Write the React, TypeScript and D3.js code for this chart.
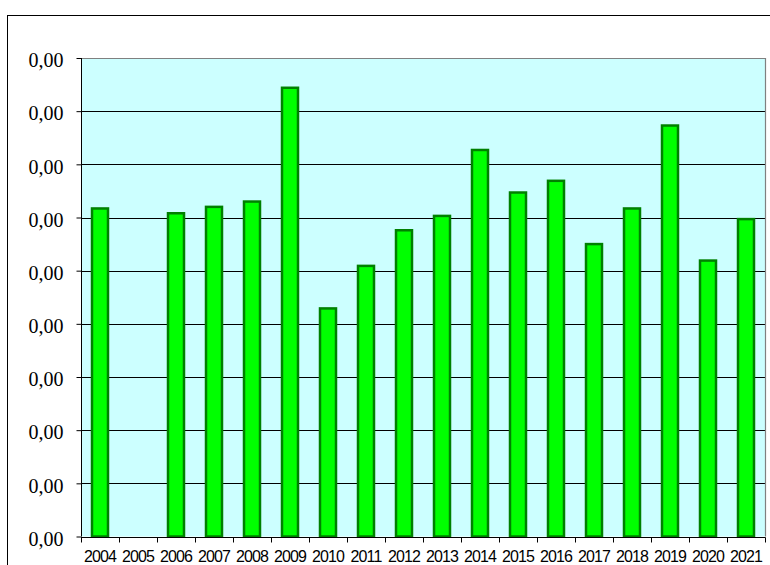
import React, { useEffect, useRef } from 'react';
import * as d3 from 'd3';

const years = ['2004', '2005', '2006', '2007', '2008', '2009', '2010', '2011', '2012', '2013', '2014', '2015', '2016', '2017', '2018', '2019', '2020', '2021'];
const values = [6.17, 0, 6.08, 6.2, 6.3, 8.44, 4.29, 5.09, 5.76, 6.03, 7.27, 6.47, 6.69, 5.5, 6.17, 7.73, 5.19, 5.97];
const yTicks = [0, 1, 2, 3, 4, 5, 6, 7, 8, 9];
const yTickLabel = '0,00';

function App() {
    const ref = useRef<SVGSVGElement>(null);

    useEffect(() => {
        const svg = d3.select(ref.current);
        svg.selectAll('*').remove();

        const left = 81, right = 765, top = 58, bottom = 536.5;

        const x = d3.scaleBand().domain(years).range([left, right]).paddingInner(0).paddingOuter(0);
        const y = d3.scaleLinear().domain([0, 9]).range([bottom, top]);

        // outer chart border
        svg.append('rect')
            .attr('x', 7.5).attr('y', 15.5)
            .attr('width', 800).attr('height', 600)
            .attr('fill', '#fff')
            .attr('stroke', '#000')
            .attr('stroke-width', 1);

        // plot area
        svg.append('rect')
            .attr('x', left).attr('y', top)
            .attr('width', right - left).attr('height', bottom - top)
            .attr('fill', '#ccffff');

        // grid
        svg.append('g')
            .selectAll('line')
            .data(yTicks.slice(1, -1))
            .enter()
            .append('line')
            .attr('x1', left).attr('x2', right)
            .attr('y1', d => Math.round(y(d)) + 0.5)
            .attr('y2', d => Math.round(y(d)) + 0.5)
            .attr('stroke', '#000');

        // top & right border in gray
        svg.append('path')
            .attr('d', `M${left},${top + 0.5}H${right + 0.5}V${bottom}`)
            .attr('fill', 'none')
            .attr('stroke', '#808080')
            .attr('stroke-width', 1.2);

        // bars
        const bw = 16;
        svg.append('g')
            .selectAll('rect')
            .data(years)
            .enter()
            .append('rect')
            .filter((d, i) => values[i] > 0)
            .attr('x', d => x(d)! + x.bandwidth() / 2 - bw / 2)
            .attr('y', d => y(values[years.indexOf(d)]))
            .attr('width', bw)
            .attr('height', d => bottom - y(values[years.indexOf(d)]))
            .attr('fill', '#00ff00')
            .attr('stroke', '#008000')
            .attr('stroke-width', 2.5);

        // y axis
        const ya = svg.append('g')
            .attr('transform', `translate(${left + 0.5},0)`)
            .call(d3.axisLeft(y).tickValues(yTicks).tickSize(5).tickFormat(() => yTickLabel));
        ya.select('.domain').attr('d', `M0,${top}V${bottom}`).attr('stroke', '#000');
        ya.selectAll('line').attr('stroke', '#000');
        ya.selectAll('text')
            .attr('x', -18)
            .attr('dy', '0.44em')
            .attr('font-family', '"Liberation Serif", "Times New Roman", serif')
            .attr('font-size', 20)
            .attr('fill', '#000');

        // x axis
        const xa = svg.append('g')
            .attr('transform', `translate(0,${Math.round(bottom) + 0.5})`);
        xa.append('line')
            .attr('x1', left).attr('x2', right + 0.5)
            .attr('stroke', '#000');
        xa.selectAll('.tk')
            .data(d3.range(years.length + 1))
            .enter()
            .append('line')
            .attr('x1', i => Math.round(left + i * x.bandwidth()) + 0.5)
            .attr('x2', i => Math.round(left + i * x.bandwidth()) + 0.5)
            .attr('y1', 0).attr('y2', 5)
            .attr('stroke', '#000');
        xa.selectAll('text')
            .data(years)
            .enter()
            .append('text')
            .text(d => d)
            .attr('x', d => x(d)! + x.bandwidth() / 2)
            .attr('y', 24.5)
            .attr('text-anchor', 'middle')
            .attr('font-family', '"Liberation Sans", Arial, sans-serif')
            .attr('font-size', 16)
            .attr('letter-spacing', -0.9)
            .attr('fill', '#000');
    }, []);

    return (
        <svg ref={ref} width={770} height={565}
            style={{ position: 'absolute', left: 0, top: 0, background: '#fff' }} />
    );
}

export default App;
